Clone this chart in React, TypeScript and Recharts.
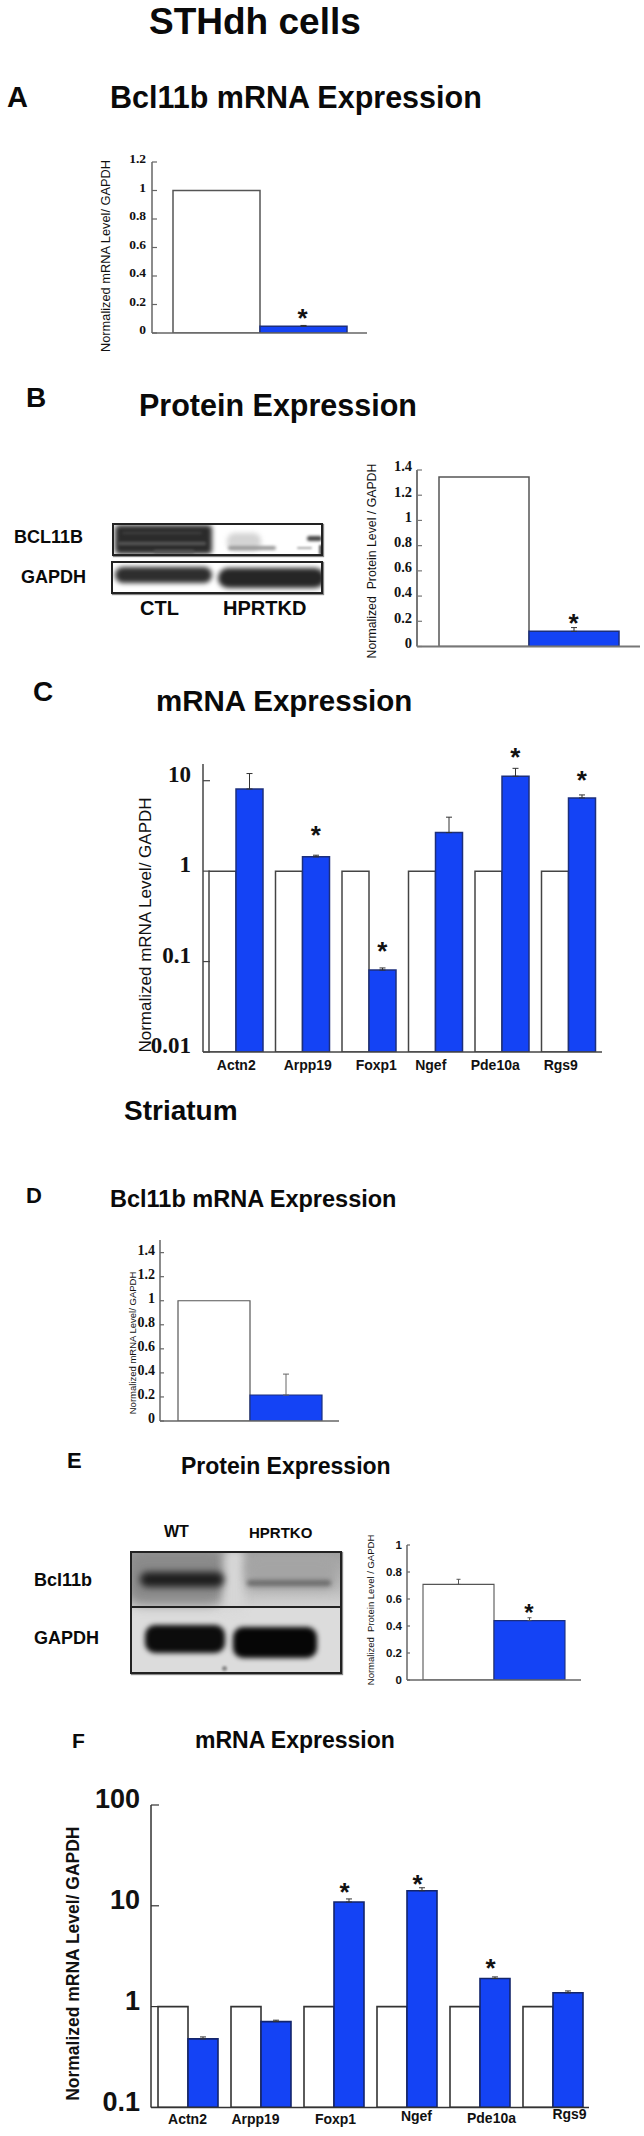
import { BarChart, Bar, XAxis, YAxis, ErrorBar, ReferenceDot } from "recharts";

const SANS = "'Liberation Sans', Arial, sans-serif";
const SERIF = "'Liberation Serif', 'Times New Roman', serif";
const BLUE = "#1443f5";

// Panel A
const aGroups = ["Bcl11b"];
const aControl = [1];
const aTreated = [0.047];
const aTreatedErr = [0.006];
const aStars = [0.147];
const aTicks = [0, 0.2, 0.4, 0.6, 0.8, 1, 1.2];

// Panel B
const bGroups = ["BCL11B"];
const bControl = [1.345];
const bTreated = [0.12];
const bTreatedErr = [0.03];
const bStars = [0.233];
const bTicks = [0, 0.2, 0.4, 0.6, 0.8, 1, 1.2, 1.4];

// Panel C
const cGroups = ["Actn2", "Arpp19", "Foxp1", "Ngef", "Pde10a", "Rgs9"];
const cControl = [1, 1, 1, 1, 1, 1];
const cTreated = [8.1, 1.44, 0.0805, 2.67, 11.2, 6.45];
const cTreatedErr = [3.9, 0.06, 0.0045, 1.28, 2.5, 0.51];
const cStars = [null, 2.91, 0.15, null, 21, 11.7];
const cTicks = [0.01, 0.1, 1, 10];
const cLabelNudge = [0, 5, 7, -5, -7, -8];

// Panel D
const dGroups = ["Bcl11b"];
const dControl = [1];
const dTreated = [0.216];
const dTreatedErr = [0.174];
const dTicks = [0, 0.2, 0.4, 0.6, 0.8, 1, 1.2, 1.4];

// Panel E
const eGroups = ["Bcl11b"];
const eControl = [0.708];
const eControlErr = [0.038];
const eTreated = [0.44];
const eTreatedErr = [0.021];
const eStars = [0.538];
const eTicks = [0, 0.2, 0.4, 0.6, 0.8, 1];

// Panel F
const fGroups = ["Actn2", "Arpp19", "Foxp1", "Ngef", "Pde10a", "Rgs9"];
const fControl = [1, 1, 1, 1, 1, 1];
const fTreated = [0.478, 0.71, 10.9, 14.1, 1.9, 1.37];
const fTreatedErr = [0.022, 0.023, 0.8, 1, 0.07, 0.06];
const fStars = [null, null, 15.8, 19, 2.78, null];
const fTicks = [0.1, 1, 10, 100];
const fLabelNudge = [0, -5, 2, 10, 12, 17];
const fLabelLift = [0, 0, 0, -3, -1, -5];

const makeRows = (
  groups: string[],
  control: number[],
  treated: number[],
  treatedErr: number[],
  controlErr?: number[]
) =>
  groups.map((name, i) => ({
    name,
    control: control[i],
    treated: treated[i],
    controlErr: controlErr ? [0, controlErr[i]] : [0, 0],
    treatedErr: [0, treatedErr[i]],
  }));

const PADTOP = 40;
const AXISW = 60;

const Panel = ({
  rows, x0, x1, yTop, yBottom, domain, ticks, log, band, stars, starDx = 0, starSize = 26,
  tickFont, tickSize, tickWeight = "bold", tickGap, tickLift = 3, tickLen = 5, axisColor = "#666", axisW = 1.5,
  barStroke = "#555", blueStroke = "#1c2f7c", barW = 1.5, capW = 3, errColor = "#333",
  yTitle, titleX, titleY, titleSize, titleWeight = "normal", xLabel, hasControlErr,
}: any) => {
  const xH = 36;
  const top = yTop - PADTOP;
  const H = PADTOP + (yBottom - yTop) + xH;

  const renderYTick = ({ x, y, payload }: any) => (
    <g>
      <line x1={x} x2={x + tickLen} y1={y} y2={y} stroke={axisColor} strokeWidth={1.2} />
      <text x={x - tickGap} y={y - tickLift} textAnchor="end" dominantBaseline="middle"
        fontFamily={tickFont} fontSize={tickSize} fontWeight={tickWeight} fill="#111">
        {String(payload.value)}
      </text>
    </g>
  );

  return (
    <div style={{ position: "absolute", left: 0, top }}>
      <BarChart
        width={644}
        height={H}
        data={rows}
        barGap={0}
        barCategoryGap={band}
        margin={{ top: PADTOP, bottom: 0, left: x0 - AXISW, right: 644 - x1 }}
      >
        <XAxis
          dataKey="name"
          height={xH}
          interval={0}
          tickLine={false}
          axisLine={{ stroke: axisColor, strokeWidth: axisW }}
          tick={xLabel ? xLabel : false}
        />
        <YAxis
          width={AXISW}
          type="number"
          scale={log ? "log" : "linear"}
          domain={domain}
          ticks={ticks}
          interval={0}
          allowDataOverflow
          tickSize={0}
          tickMargin={0}
          tickLine={false}
          axisLine={{ stroke: axisColor, strokeWidth: axisW }}
          tick={renderYTick}
          label={{
            value: yTitle,
            content: () => (
              <text
                transform={`translate(${titleX},${titleY - top}) rotate(-90)`}
                textAnchor="middle"
                dominantBaseline="middle"
                fontFamily={SANS}
                fontSize={titleSize}
                fontWeight={titleWeight}
                fill="#111"
                style={{ whiteSpace: "pre" }}
              >
                {yTitle}
              </text>
            ),
          }}
        />
        <Bar dataKey="control" fill="#ffffff" stroke={barStroke} strokeWidth={barW} isAnimationActive={false}>
          {hasControlErr && (
            <ErrorBar dataKey="controlErr" direction="y" width={capW} stroke={errColor} strokeWidth={1} isAnimationActive={false} />
          )}
        </Bar>
        <Bar dataKey="treated" fill={BLUE} stroke={blueStroke} strokeWidth={barW} isAnimationActive={false}>
          <ErrorBar dataKey="treatedErr" direction="y" width={capW} stroke={errColor} strokeWidth={1} isAnimationActive={false} />
        </Bar>
        {(stars || []).map((s: number | null, i: number) =>
          s === null ? null : (
            <ReferenceDot
              key={i}
              x={rows[i].name}
              y={s}
              ifOverflow="visible"
              shape={({ cx, cy }: any) => (
                <text x={cx + starDx} y={cy + starSize * 0.57} textAnchor="middle" fontFamily={SANS} fontWeight="bold" fontSize={starSize} fill="#111">
                  *
                </text>
              )}
            />
          )
        )}
      </BarChart>
    </div>
  );
};

const xLabelTick = (nudge: number[], lift: number[] | null, size: number, dy: number) => ({ x, y, payload, index }: any) => (
  <text x={x + nudge[index]} y={y + dy + (lift ? lift[index] : 0)} textAnchor="middle" dominantBaseline="middle"
    fontFamily={SANS} fontSize={size} fontWeight="bold" fill="#111">
    {payload.value}
  </text>
);

const Txt = ({ x, y, size, children, weight = "bold" }: any) => (
  <div
    style={{
      position: "absolute",
      left: x,
      top: y,
      transform: "translateY(-50%)",
      fontFamily: SANS,
      fontWeight: weight,
      fontSize: size,
      color: "#0a0a0a",
      whiteSpace: "pre",
      lineHeight: 1,
    }}
  >
    {children}
  </div>
);

// photographed gels, approximated with blurred smears
const Smear = ({ x, y, w, h, c, b = 2, r = 8 }: any) => (
  <div style={{ position: "absolute", left: x, top: y, width: w, height: h, background: c, filter: `blur(${b}px)`, borderRadius: r }} />
);

const Gel = ({ x, y, w, h, bg = "#fff", border = 2, children }: any) => (
  <div
    style={{
      position: "absolute", left: x, top: y, width: w, height: h, background: bg,
      border: `${border}px solid #222`, overflow: "hidden", boxSizing: "border-box",
      boxShadow: "1px 1px 1px #888",
    }}
  >
    {children}
  </div>
);

export default function App() {
  return (
    <div style={{ position: "absolute", left: 0, top: 0, width: 644, height: 2136, background: "#fff", overflow: "hidden" }}>
      <Txt x={149} y={21} size={37}>STHdh cells</Txt>

      <Txt x={7} y={97} size={29}>A</Txt>
      <Txt x={110} y={97} size={30.5}>Bcl11b mRNA Expression</Txt>
      <Panel
        rows={makeRows(aGroups, aControl, aTreated, aTreatedErr)}
        x0={152} x1={367} yTop={162} yBottom={333} domain={[0, 1.2]} ticks={aTicks} band={21}
        stars={aStars} starDx={43}
        tickFont={SERIF} tickSize={13.5} tickGap={6} tickLift={2}
        yTitle="Normalized mRNA Level/ GAPDH" titleX={107} titleY={256} titleSize={12.8}
      />

      <Txt x={26} y={398} size={28}>B</Txt>
      <Txt x={139} y={405} size={30.5}>Protein Expression</Txt>
      <Gel x={112} y={523} w={211} h={33}>
        <Smear x={1} y={0} w={97} h={29} c="#2b2b2b" b={2.5} r={4} />
        <Smear x={4} y={17} w={88} h={3} c="#5c5c5c" b={1.5} r={1} />
        <Smear x={8} y={7} w={80} h={2} c="#444" b={1.5} r={1} />
        <Smear x={40} y={25} w={40} h={3} c="#555" b={1.5} r={1} />
        <Smear x={113} y={8} w={34} h={18} c="#d4d4d4" b={2.5} />
        <Smear x={114} y={21} w={48} h={4} c="#999" b={1.5} r={2} />
        <Smear x={183} y={22} w={15} h={2} c="#aaa" b={1} r={1} />
        <Smear x={193} y={11} w={15} h={5} c="#444" b={1.5} r={3} />
        <Smear x={205} y={20} w={4} h={10} c="#666" b={1} r={1} />
      </Gel>
      <Gel x={111} y={561} w={212} h={33}>
        <Smear x={2} y={4} w={97} h={16} c="#2e2e2e" b={2.5} r={10} />
        <Smear x={105} y={5} w={107} h={20} c="#262626" b={2.5} r={10} />
      </Gel>
      <Txt x={14} y={537} size={18}>BCL11B</Txt>
      <Txt x={21} y={577} size={18}>GAPDH</Txt>
      <Txt x={140} y={608} size={20}>CTL</Txt>
      <Txt x={223} y={608} size={20}>HPRTKD</Txt>
      <Panel
        rows={makeRows(bGroups, bControl, bTreated, bTreatedErr)}
        x0={417} x1={640} yTop={470} yBottom={646.5} domain={[0, 1.4]} ticks={bTicks} band={22}
        stars={bStars} starDx={45}
        tickFont={SERIF} tickSize={14.5} tickGap={5} tickLift={2} axisColor="#777" axisW={2}
        yTitle="Normalized  Protein Level / GAPDH" titleX={373} titleY={561} titleSize={12.3}
      />

      <Txt x={33} y={692} size={28}>C</Txt>
      <Txt x={156} y={701} size={29.5}>mRNA Expression</Txt>
      <Panel
        rows={makeRows(cGroups, cControl, cTreated, cTreatedErr)}
        x0={203} x1={602} yTop={764} yBottom={1052} domain={[0.01, 15.3]} ticks={cTicks} log band={6}
        stars={cStars} starDx={13}
        tickFont={SERIF} tickSize={23} tickGap={12} tickLift={4} tickLen={7} axisColor="#444"
        barStroke="#444"
        capW={3}
        xLabel={xLabelTick(cLabelNudge, null, 14, 6)}
        yTitle="Normalized mRNA Level/ GAPDH" titleX={147} titleY={925} titleSize={17}
      />

      <Txt x={124} y={1111} size={28}>Striatum</Txt>

      <Txt x={26} y={1196} size={22}>D</Txt>
      <Txt x={110} y={1200} size={23.5}>Bcl11b mRNA Expression</Txt>
      <Panel
        rows={makeRows(dGroups, dControl, dTreated, dTreatedErr)}
        x0={160} x1={339} yTop={1240} yBottom={1421} domain={[0, 1.505]} ticks={dTicks} band={18}
        tickFont={SERIF} tickSize={14} tickGap={5} tickLift={1} tickLen={4} axisColor="#666"
        barW={1.2} errColor="#666"
        yTitle="Normalized mRNA Level/ GAPDH" titleX={133} titleY={1343} titleSize={9.5}
      />

      <Txt x={67} y={1461} size={22}>E</Txt>
      <Txt x={181} y={1466} size={23}>Protein Expression</Txt>
      <Gel x={130} y={1551} w={212} h={123} bg="#dcdcdc">
        <div style={{ position: "absolute", left: 0, top: 0, width: "100%", height: 54, background: "linear-gradient(180deg,#a0a0a0 0%,#bcbcbc 65%,#d2d2d2 100%)" }} />
        <Smear x={-6} y={-4} w={100} h={56} c="#8a8a8a" b={6} r={16} />
        <Smear x={92} y={-4} w={20} h={62} c="#d6d6d6" b={4} r={6} />
        <Smear x={114} y={4} w={90} h={32} c="#a4a4a4" b={5} r={10} />
        <Smear x={8} y={19} w={84} h={15} c="#1e1e1e" b={3.5} r={8} />
        <Smear x={115} y={27} w={84} h={6} c="#6c6c6c" b={2} r={4} />
        <div style={{ position: "absolute", left: 0, top: 53, width: "100%", height: 2, background: "#222" }} />
        <Smear x={13} y={72} w={80} h={28} c="#0c0c0c" b={2.5} r={10} />
        <Smear x={101} y={74} w={84} h={31} c="#060606" b={2.5} r={10} />
        <Smear x={90} y={113} w={5} h={5} c="#888" b={1} r={3} />
      </Gel>
      <Txt x={164} y={1532} size={16}>WT</Txt>
      <Txt x={249} y={1532} size={15}>HPRTKO</Txt>
      <Txt x={34} y={1580} size={18}>Bcl11b</Txt>
      <Txt x={34} y={1638} size={18}>GAPDH</Txt>
      <Panel
        rows={makeRows(eGroups, eControl, eTreated, eTreatedErr, eControlErr)}
        x0={407} x1={581} yTop={1545} yBottom={1680} domain={[0, 1]} ticks={eTicks} band={16} hasControlErr
        stars={eStars} starDx={35} starSize={24}
        tickFont={SANS} tickSize={11.5} tickGap={5} tickLift={-1} tickLen={3} axisColor="#666"
        barW={1.1} capW={2} errColor="#555"
        yTitle="Normalized  Protein Level / GAPDH" titleX={371} titleY={1610} titleSize={9.5}
      />

      <Txt x={72} y={1740} size={21}>F</Txt>
      <Txt x={195} y={1740} size={23}>mRNA Expression</Txt>
      <Panel
        rows={makeRows(fGroups, fControl, fTreated, fTreatedErr)}
        x0={151} x1={589} yTop={1805.3} yBottom={2107.7} domain={[0.1, 100]} ticks={fTicks} log band={7}
        stars={fStars} starDx={11}
        tickFont={SANS} tickSize={27} tickGap={11} tickLift={4} tickLen={8} axisColor="#333"
        barStroke="#333" blueStroke="#13256b" barW={1.6}
        xLabel={xLabelTick(fLabelNudge, fLabelLift, 14, 5)}
        yTitle="Normalized mRNA Level/ GAPDH" titleX={74} titleY={1964} titleSize={17.5} titleWeight="bold"
      />
    </div>
  );
}
